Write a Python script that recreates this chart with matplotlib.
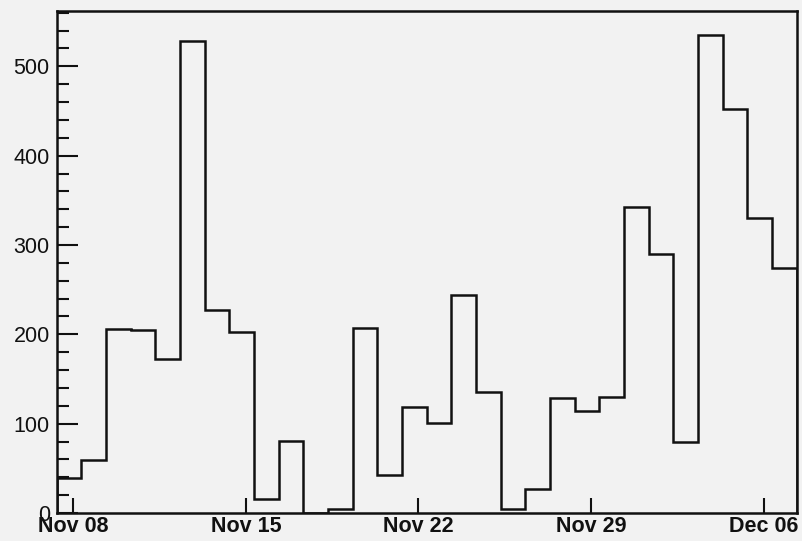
import datetime as dt
import matplotlib
matplotlib.use("Agg")
import matplotlib.pyplot as plt
import matplotlib.dates as mdates
from matplotlib.ticker import MultipleLocator

# daily counts, one bin per day starting Nov 07 08:00
counts = [39, 59, 206, 205, 172, 528, 227, 203, 16, 81,
          0, 5, 207, 43, 119, 101, 244, 135, 5, 27,
          129, 114, 130, 342, 290, 79, 535, 452, 330, 274]
start = dt.datetime(2010, 11, 7, 8, 0)
tick_dates = [dt.datetime(2010, 11, 8), dt.datetime(2010, 11, 15),
              dt.datetime(2010, 11, 22), dt.datetime(2010, 11, 29),
              dt.datetime(2010, 12, 6)]
tick_labels = ["Nov 08", "Nov 15", "Nov 22", "Nov 29", "Dec 06"]

edges = [mdates.date2num(start + dt.timedelta(days=i)) for i in range(len(counts) + 1)]

bg = "#f2f2f2"
ink = "#111111"
fig = plt.figure(figsize=(8.02, 5.41), dpi=100, facecolor=bg)
ax = fig.add_axes([0.0707, 0.0518, 0.9934 - 0.0707, 0.9797 - 0.0518])
ax.set_facecolor(bg)

ax.stairs(counts, edges, color=ink, linewidth=1.8, baseline=0)

ax.set_xlim(edges[0], edges[-1])
ax.set_ylim(0, 562)

ax.set_xticks([mdates.date2num(d) for d in tick_dates])
ax.set_xticklabels(tick_labels)
ax.yaxis.set_major_locator(MultipleLocator(100))
ax.yaxis.set_minor_locator(MultipleLocator(20))

fam = ["Liberation Sans", "DejaVu Sans"]
for lab in ax.get_xticklabels():
    lab.set_fontfamily(fam)
    lab.set_fontsize(15.5)
    lab.set_fontweight("bold")
    lab.set_color(ink)
for lab in ax.get_yticklabels():
    lab.set_fontfamily(fam)
    lab.set_fontsize(15.5)
    lab.set_color(ink)

ax.tick_params(axis="y", which="major", direction="in", length=15, width=1.5, pad=5, color=ink)
ax.tick_params(axis="y", which="minor", direction="in", length=8.6, width=1.5, color=ink)
ax.tick_params(axis="x", which="major", direction="in", length=10.8, width=1.5, pad=2, color=ink)

for s in ax.spines.values():
    s.set_linewidth(1.8)
    s.set_color(ink)

fig.savefig("out.png", dpi=100, facecolor=bg)
